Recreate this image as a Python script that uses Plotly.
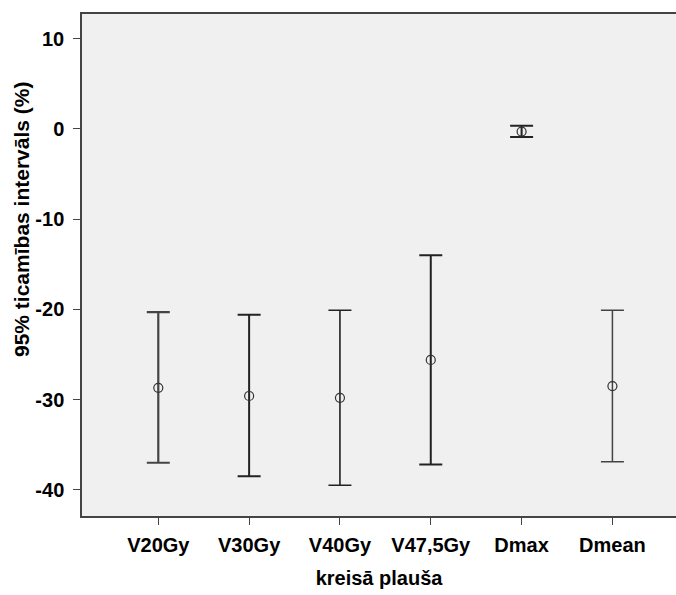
import plotly.graph_objects as go

categories = ["V20Gy", "V30Gy", "V40Gy", "V47,5Gy", "Dmax", "Dmean"]
means = [-28.7, -29.6, -29.8, -25.6, -0.3, -28.5]
upper = [-20.3, -20.6, -20.1, -14.0, 0.35, -20.1]
lower = [-37.0, -38.5, -39.5, -37.2, -0.9, -36.9]

y_tickvals = [10, 0, -10, -20, -30, -40]
y_ticktext = ["10", "0", "-10", "-20", "-30", "-40"]

stem_width = [2.2, 2.0, 1.6, 2.0, 2.0, 1.5]
stem_color = ["#444444", "#222222", "#222222", "#222222", "#222222", "#444444"]

FONT = "Liberation Sans, Arial, sans-serif"

fig = go.Figure()
for i, c in enumerate(categories):
    fig.add_trace(go.Scatter(
        x=[i], y=[means[i]],
        mode="markers",
        marker=dict(symbol="circle-open", size=9, color="#333333", line=dict(width=1.2)),
        error_y=dict(type="data", symmetric=False,
                     array=[upper[i] - means[i]],
                     arrayminus=[means[i] - lower[i]],
                     color=stem_color[i], thickness=stem_width[i], width=11.5),
        showlegend=False,
        hoverinfo="skip",
    ))

fig.update_layout(
    width=676, height=595,
    margin=dict(l=82, r=0, t=14, b=79),
    paper_bgcolor="white",
    plot_bgcolor="#f0f0f0",
    font=dict(family=FONT, color="black"),
    xaxis=dict(
        range=[-0.84, 5.70],
        tickmode="array", tickvals=list(range(len(categories))), ticktext=categories,
        showgrid=False, zeroline=False,
        showline=True, linecolor="#444444", linewidth=1.5, mirror=True,
        ticks="outside", ticklen=7, tickcolor="#444444", tickwidth=1.2,
        tickfont=dict(size=20, family=FONT, weight="bold"),
        ticklabelstandoff=3,
        title=dict(text="kreisā plauša", font=dict(size=20, family=FONT, weight="bold"), standoff=16),
        automargin=False,
    ),
    yaxis=dict(
        range=[-42.9, 12.73],
        tickmode="array", tickvals=y_tickvals, ticktext=y_ticktext,
        showgrid=False, zeroline=False,
        showline=True, linecolor="#444444", linewidth=1.5,
        ticks="outside", ticklen=7, tickcolor="#444444", tickwidth=1.2,
        tickfont=dict(size=20, family=FONT, weight="bold"),
        ticklabelstandoff=5,
        automargin=False,
    ),
    annotations=[dict(
        text="95% ticamības intervāls (%)",
        xref="paper", yref="paper",
        x=(22 - 82) / 594, y=(516 - 220) / 502,
        xanchor="center", yanchor="middle",
        textangle=-90, showarrow=False,
        font=dict(size=21, family=FONT, weight="bold", color="black"),
    )],
)

fig.write_html("out.html")
